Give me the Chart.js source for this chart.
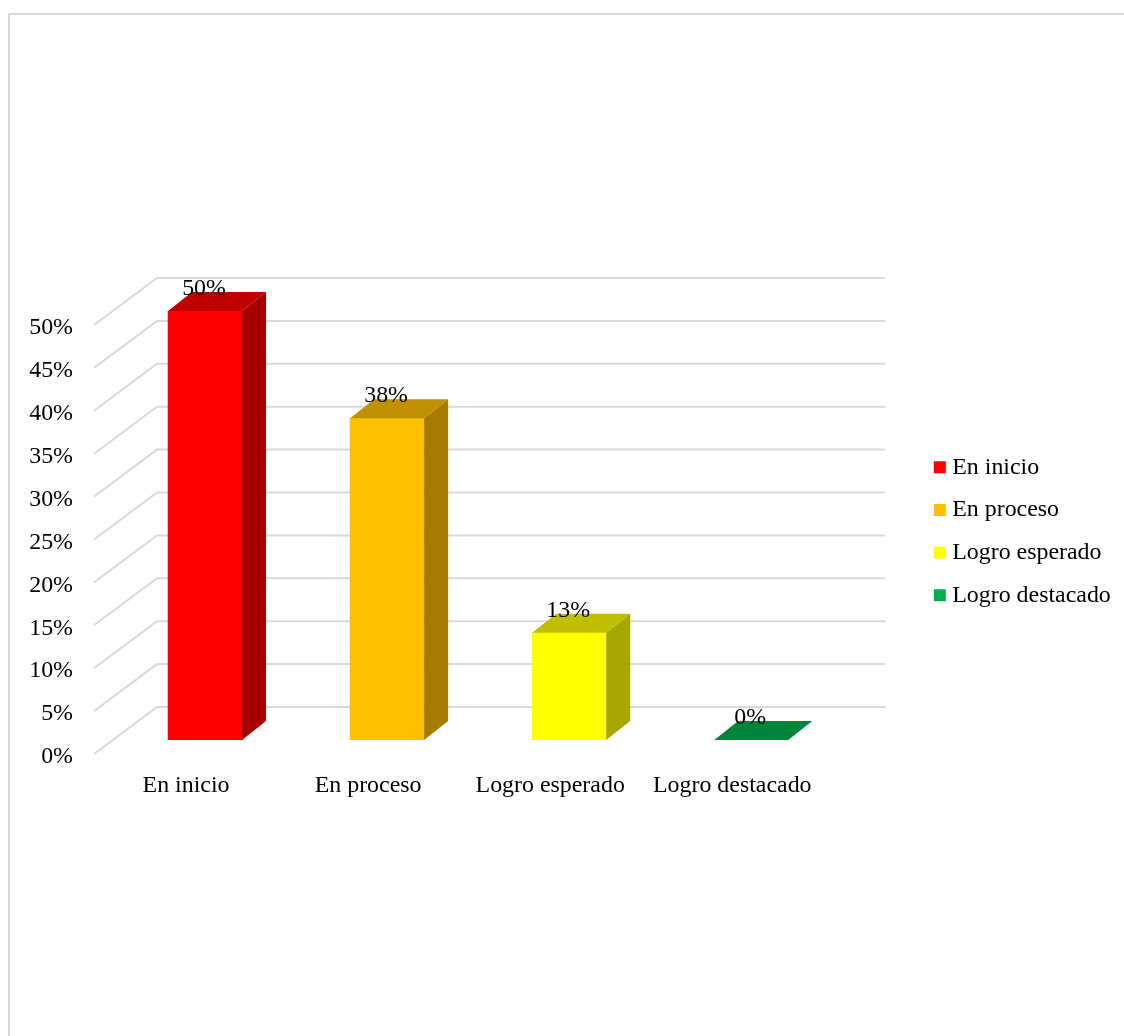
<!DOCTYPE html>
<html lang="es">
  <head>
    <meta charset="UTF-8" />
    <title>Niveles de logro</title>
    <style>
      html,
      body {
        margin: 0;
        padding: 0;
        background: #fff;
        overflow: hidden;
      }

      /* Frame of the picture, it runs off the right and bottom edges */
      .frame {
        position: absolute;
        left: 8px;
        top: 13px;
        width: 1130px;
        height: 1040px;
        border: 2px solid #d9d9d9;
      }

      #chart {
        position: absolute;
        left: 0;
        top: 0;
      }
    </style>
    <script src="https://cdn.jsdelivr.net/npm/chart.js"></script>
  </head>
  <body>
    <div class="frame"></div>
    <canvas id="chart" width="1124" height="1036"></canvas>

    <script>
      const categories = ['En inicio', 'En proceso', 'Logro esperado', 'Logro destacado'];
      const values = [50, 37.5, 12.5, 0];
      const frontColors = ['#ff0000', '#ffc000', '#ffff00', '#00b050'];
      const topColors = ['#bf0000', '#bf9000', '#bfbf00', '#00843c'];
      const sideColors = ['#a60000', '#a67c00', '#a6a600', '#006a30'];

      const fontFamily = '"Liberation Serif", "Times New Roman", serif';
      const fontSize = 23.9;

      // Depth of the fake 3D box, in pixels from the plane of the bars
      const depthFront = { x: -20, y: 14 };
      const depthBack = { x: 43, y: -33 };
      const barDepth = { x: 24, y: -19 };

      function polygon(ctx, color, points) {
        ctx.fillStyle = color;
        ctx.beginPath();
        points.forEach((p, i) => (i ? ctx.lineTo(p[0], p[1]) : ctx.moveTo(p[0], p[1])));
        ctx.closePath();
        ctx.fill();
      }

      // Back wall lines and the diagonals on the left wall
      const wallGrid = {
        id: 'wallGrid',
        beforeDatasetsDraw(chart) {
          const { ctx, scales } = chart;
          const left = scales.x.left;
          const right = scales.x.right;
          ctx.save();
          ctx.strokeStyle = '#d9d9d9';
          ctx.lineWidth = 2;
          scales.y.ticks.forEach((tick) => {
            const y = scales.y.getPixelForValue(tick.value);
            ctx.beginPath();
            ctx.moveTo(left + depthFront.x, y + depthFront.y);
            ctx.lineTo(left + depthBack.x, y + depthBack.y);
            ctx.lineTo(right + depthBack.x, y + depthBack.y);
            ctx.stroke();
          });
          ctx.restore();
        },
      };

      // Top and side faces of each bar, then the value above it
      const barFaces = {
        id: 'barFaces',
        afterDatasetsDraw(chart) {
          const { ctx } = chart;
          const bars = chart.getDatasetMeta(0).data;
          ctx.save();
          bars.forEach((bar, i) => {
            const l = bar.x - bar.width / 2;
            const r = bar.x + bar.width / 2;
            const dx = barDepth.x;
            const dy = barDepth.y;
            if (bar.base > bar.y) {
              polygon(ctx, sideColors[i], [
                [r, bar.y],
                [r + dx, bar.y + dy],
                [r + dx, bar.base + dy],
                [r, bar.base],
              ]);
            }
            polygon(ctx, topColors[i], [
              [l, bar.y],
              [l + dx, bar.y + dy],
              [r + dx, bar.y + dy],
              [r, bar.y],
            ]);
          });
          ctx.fillStyle = '#000';
          ctx.font = fontSize + 'px ' + fontFamily;
          ctx.textAlign = 'center';
          ctx.textBaseline = 'middle';
          bars.forEach((bar, i) => {
            ctx.fillText(Math.round(values[i]) + '%', bar.x - 1, bar.y - 22.5);
          });
          ctx.restore();
        },
      };

      // Put the legend where the original has it
      const legendPlace = {
        id: 'legendPlace',
        afterLayout(chart) {
          const legend = chart.legend;
          const w = legend.right - legend.left;
          legend.left = 920.5;
          legend.right = 920.5 + w;
          legend.top = 436.5;
        },
      };

      new Chart(document.getElementById('chart'), {
        type: 'bar',
        data: {
          labels: categories,
          datasets: [
            {
              data: values,
              backgroundColor: frontColors,
              barThickness: 74,
            },
          ],
        },
        plugins: [wallGrid, barFaces, legendPlace],
        options: {
          responsive: false,
          animation: false,
          layout: {
            padding: { top: 311, bottom: 196, right: 81.4, left: 0 },
          },
          scales: {
            x: {
              afterFit(scale) {
                scale.height = 100;
              },
              grid: { display: false },
              border: { display: false },
              ticks: {
                color: '#000',
                font: { family: fontFamily, size: fontSize },
                padding: 23,
                labelOffset: -19,
                autoSkip: false,
                maxRotation: 0,
              },
            },
            y: {
              min: 0,
              max: 50,
              afterFit(scale) {
                scale.width = 114;
              },
              grid: { display: false, drawTicks: false },
              border: { display: false },
              ticks: {
                stepSize: 5,
                color: '#000',
                font: { family: fontFamily, size: fontSize },
                padding: 41,
                labelOffset: 17,
                callback: (value) => value + '%',
              },
            },
          },
          plugins: {
            tooltip: { enabled: false },
            legend: {
              position: 'right',
              align: 'start',
              labels: {
                color: '#000',
                font: { family: fontFamily, size: fontSize },
                usePointStyle: true,
                pointStyle: 'rect',
                boxWidth: 1,
                boxHeight: 12,
                padding: 18.8,
                generateLabels: () =>
                  categories.map((text, i) => ({
                    text,
                    fillStyle: frontColors[i],
                    strokeStyle: frontColors[i],
                    lineWidth: 0,
                    pointStyle: 'rect',
                    datasetIndex: 0,
                    index: i,
                  })),
              },
            },
          },
        },
      });
    </script>
  </body>
</html>
